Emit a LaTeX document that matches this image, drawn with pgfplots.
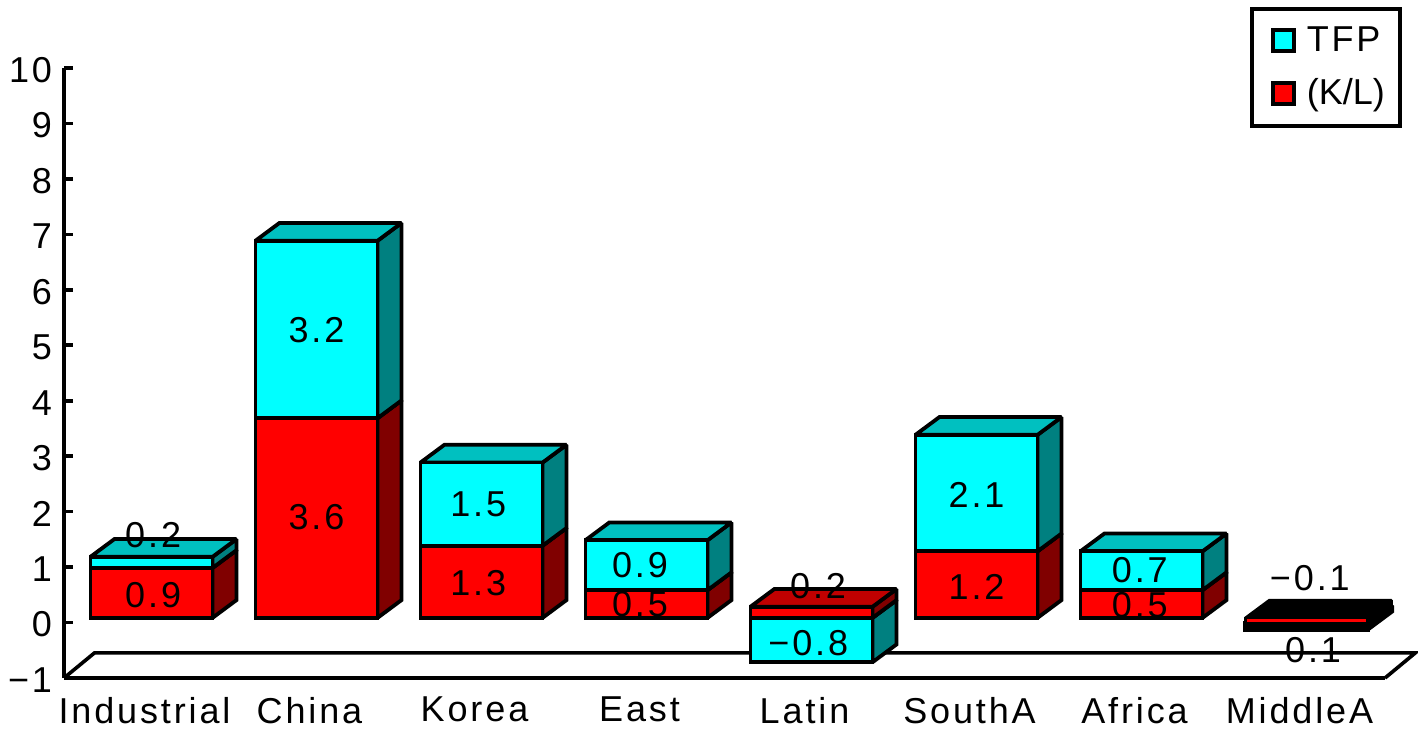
\documentclass[border=0pt]{standalone}
\usepackage{pgfplots}
\pgfplotsset{compat=1.18}
\usepackage{fontspec}
\setmainfont{Liberation Sans}[LetterSpace=8]

\definecolor{cyanfront}{RGB}{0,255,255}
\definecolor{cyantop}{RGB}{0,192,192}
\definecolor{cyanside}{RGB}{0,128,128}
\definecolor{redfront}{RGB}{255,0,0}
\definecolor{redtop}{RGB}{192,0,0}
\definecolor{redside}{RGB}{128,0,0}

% box depth in axis units, half width of a bar
\def\depthx{0.145}
\def\depthy{0.32}
\def\halfw{0.37}

% one stacked block: {category}{low}{high}{front}{top}{side}{outline style}
\newcommand{\block}[7]{%
  \pgfmathsetmacro{\xa}{#1-\halfw}%
  \pgfmathsetmacro{\xb}{#1+\halfw}%
  \pgfmathsetmacro{\xc}{\xa+\depthx}%
  \pgfmathsetmacro{\xd}{\xb+\depthx}%
  \pgfmathsetmacro{\yc}{#2+\depthy}%
  \pgfmathsetmacro{\yd}{#3+\depthy}%
  \addplot[#7,fill=#6,forget plot] coordinates {(\xb,#2) (\xd,\yc) (\xd,\yd) (\xb,#3)} -- cycle;
  \addplot[#7,fill=#5,forget plot] coordinates {(\xa,#3) (\xb,#3) (\xd,\yd) (\xc,\yd)} -- cycle;
  \addplot[#7,fill=#4,forget plot] coordinates {(\xa,#2) (\xb,#2) (\xb,#3) (\xa,#3)} -- cycle;
}
\newcommand{\redblock}[3]{\block{#1}{#2}{#3}{redfront}{redtop}{redside}{boxline}}
\newcommand{\cyanblock}[3]{\block{#1}{#2}{#3}{cyanfront}{cyantop}{cyanside}{boxline}}
\newcommand{\val}[3]{\node[font=\fontsize{18}{18}\selectfont,inner sep=0pt] at (axis cs:#1,#2) {#3};}

\begin{document}
\begin{tikzpicture}
\begin{axis}[
  at={(32pt,25.5pt)}, anchor=south west,
  scale only axis, width=660.5pt, height=305pt,
  xmin=-0.5303, xmax=7.4758, ymin=-1.085, ymax=9.915,
  clip=false,
  axis y line=left, axis x line=bottom,
  axis line style={-,line width=1.8pt,black},
  ytick={-1.085,-0.085,0.915,1.915,2.915,3.915,4.915,5.915,6.915,7.915,8.915,9.915},
  yticklabels={−1,0,1,2,3,4,5,6,7,8,9,10},
  xtick={0,1,2,3,4,5,6,7},
  xticklabels={Industrial,China,Korea,East,Latin,SouthA,Africa,MiddleA},
  tick align=inside,
  major tick length=4.5pt,
  y tick style={line width=1.8pt,black},
  x tick style={draw=none},
  tick label style={font=\fontsize{18}{18}\selectfont},
  y tick label style={xshift=-2.5pt,yshift=-1pt},
  x tick label style={xshift=-3.5pt,yshift=-6pt},
  boxline/.style={draw=black,line width=1.9pt,line join=miter,miter limit=1.5,mark=none},
  slabred/.style={draw=black,line width=1.3pt,line join=miter,miter limit=1.5,mark=none},
  slabcyan/.style={draw=black,line width=2.6pt,line join=miter,miter limit=1.5,mark=none},
  legend style={at={(1.0127,1.1)},anchor=north east,draw=black,line width=2pt,
    font=\fontsize{18}{18}\selectfont,inner xsep=5.5pt,inner ysep=7pt,
    row sep=8pt,
    nodes={line width=0pt}},
  legend cell align=left,
  legend image code/.code={%
    \path[draw=none,fill=none] (0pt,0pt) -- (20pt,0pt);
    \path[draw=black,line width=1.9pt,#1] (5pt,-5.25pt) rectangle (15.5pt,5.25pt);},
]
\addlegendimage{fill=cyanfront}
\addlegendentry{TFP}
\addlegendimage{fill=redfront}
\addlegendentry{\addfontfeatures{LetterSpace=0}(K/L)}

% floor of the plot
\addplot[black,line width=1.8pt,mark=none,forget plot] coordinates {(-0.5303,-1.085) (-0.345,-0.631) (7.66,-0.631) (7.4758,-1.085)};

% Industrial
\redblock{0}{0}{0.9}
\cyanblock{0}{0.9}{1.1}
% China
\redblock{1}{0}{3.6}
\cyanblock{1}{3.6}{6.8}
% Korea
\redblock{2}{0}{1.3}
\cyanblock{2}{1.3}{2.8}
% East
\redblock{3}{0}{0.5}
\cyanblock{3}{0.5}{1.4}
% Latin
\cyanblock{4}{-0.8}{0}
\redblock{4}{0}{0.2}
% SouthA
\redblock{5}{0}{1.2}
\cyanblock{5}{1.2}{3.3}
% Africa
\redblock{6}{0}{0.5}
\cyanblock{6}{0.5}{1.2}
% MiddleA: a thin slab, nearly all outline
\block{7}{-0.2}{-0.1}{cyanfront}{black}{black}{slabcyan}
\block{7}{-0.1}{0}{redfront}{black}{black}{slabred}

% value labels
\val{0.01}{1.496}{0.2}
\val{0.01}{0.415}{0.9}
\val{1}{5.19}{3.2}
\val{1}{1.82}{3.6}
\val{1.98}{2.04}{1.5}
\val{1.98}{0.63}{1.3}
\val{2.96}{0.955}{0.9}
\val{2.96}{0.25}{0.5}
\val{4.04}{0.577}{0.2}
\val{3.98}{-0.45}{−0.8}
\val{5}{2.217}{2.1}
\val{5}{0.559}{1.2}
\val{5.99}{0.86}{0.7}
\val{5.99}{0.23}{0.5}
\val{7.02}{0.721}{−0.1}
\val{7.04}{-0.577}{0.1}
\end{axis}
\pgfresetboundingbox
\path (0,0) rectangle (709pt,364.5pt);
\end{tikzpicture}
\end{document}
